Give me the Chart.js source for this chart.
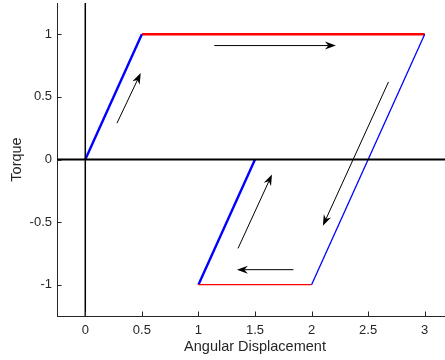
<!DOCTYPE html>
<html>
<head>
<meta charset="utf-8">
<script src="https://cdn.jsdelivr.net/npm/chart.js@4/dist/chart.umd.min.js"></script>
<style>
  html, body { margin: 0; padding: 0; background: #fff; overflow: hidden; }
  #wrap { width: 453px; height: 360px; }
</style>
</head>
<body>
<div id="wrap"><canvas id="hyst" width="453" height="360"></canvas></div>
<script>
// loop corners (angular displacement, torque)
const loopX = [0, 0.5, 3, 2, 1, 1.5];
const loopY = [0, 1, 1, -1, -1, 0];

// arrows: tail -> head
const arrowTailX = [0.28, 1.14, 2.68, 1.84, 1.35];
const arrowTailY = [0.29, 0.91, 0.62, -0.88, -0.71];
const arrowHeadX = [0.49, 2.215, 2.10, 1.34, 1.65];
const arrowHeadY = [0.69, 0.91, -0.53, -0.88, -0.12];

const xTicks = [0, 0.5, 1, 1.5, 2, 2.5, 3];
const yTicks = [-1, -0.5, 0, 0.5, 1];

const axisCol = '#262626';
const font = 'Liberation Sans, Arial, Helvetica, sans-serif';

function seg(i, j, color, width) {
    return {
        data: [{x: loopX[i], y: loopY[i]}, {x: loopX[j], y: loopY[j]}],
        borderColor: color, borderWidth: width, showLine: true,
        pointRadius: 0, fill: false
    };
}

const datasets = [
    { data: [{x: -0.25, y: 0}, {x: 3.25, y: 0}], borderColor: '#000', borderWidth: 2, showLine: true, pointRadius: 0 },
    { data: [{x: 0, y: -1.25}, {x: 0, y: 1.25}], borderColor: '#000', borderWidth: 1.5, showLine: true, pointRadius: 0 },
    seg(2, 3, '#0000ff', 1.3),
    seg(3, 4, '#ff0000', 1.3),
    seg(0, 1, '#0000ff', 2.4),
    seg(1, 2, '#ff0000', 2.6),
    seg(4, 5, '#0000ff', 2.4)
];

// inward tick marks + annotation arrows
const extras = {
    id: 'extras',
    afterDatasetsDraw(chart) {
        const c = chart.ctx, xs = chart.scales.x, ys = chart.scales.y;
        const a = chart.chartArea;
        c.save();
        c.strokeStyle = axisCol;
        c.lineWidth = 1;
        c.beginPath();
        xTicks.forEach(v => {
            const px = Math.round(xs.getPixelForValue(v)) + 0.5;
            c.moveTo(px, a.bottom); c.lineTo(px, a.bottom - 4.5);
        });
        yTicks.forEach(v => {
            const py = Math.round(ys.getPixelForValue(v)) + 0.5;
            c.moveTo(a.left, py); c.lineTo(a.left + 4.5, py);
        });
        c.stroke();

        c.strokeStyle = '#000';
        c.fillStyle = '#000';
        for (let i = 0; i < arrowTailX.length; i++) {
            const x0 = xs.getPixelForValue(arrowTailX[i]), y0 = ys.getPixelForValue(arrowTailY[i]);
            const x1 = xs.getPixelForValue(arrowHeadX[i]), y1 = ys.getPixelForValue(arrowHeadY[i]);
            const ang = Math.atan2(y1 - y0, x1 - x0);
            const L = 11, W = 4, N = 7.5;
            c.beginPath();
            c.moveTo(x0, y0);
            c.lineTo(x1 - N * Math.cos(ang), y1 - N * Math.sin(ang));
            c.stroke();
            c.save();
            c.translate(x1, y1);
            c.rotate(ang);
            c.beginPath();
            c.moveTo(0, 0);
            c.lineTo(-L, -W);
            c.lineTo(-N, 0);
            c.lineTo(-L, W);
            c.closePath();
            c.fill();
            c.restore();
        }
        c.restore();
    }
};

const tickLabel = v => String(v);

new Chart(document.getElementById('hyst'), {
    type: 'scatter',
    data: { datasets },
    plugins: [extras],
    options: {
        responsive: false,
        animation: false,
        layout: { padding: { top: 3, right: 0, left: 0, bottom: 0 } },
        plugins: { legend: { display: false }, tooltip: { enabled: false } },
        scales: {
            x: {
                type: 'linear', min: -0.25, max: 3.25,
                afterBuildTicks: s => { s.ticks = xTicks.map(v => ({value: v})); },
                afterFit: s => { s.height = 44; s.paddingLeft = 0; s.paddingRight = 0; },
                grid: { display: false, drawTicks: false },
                border: { display: true, color: axisCol, width: 1 },
                ticks: { color: axisCol, font: { family: font, size: 13 }, padding: 7, maxRotation: 0, callback: tickLabel },
                title: { display: true, text: 'Angular Displacement', color: axisCol,
                         font: { family: font, size: 14.5 }, padding: { top: 0, bottom: 4 } }
            },
            y: {
                type: 'linear', min: -1.25, max: 1.25,
                afterBuildTicks: s => { s.ticks = yTicks.map(v => ({value: v})); },
                afterFit: s => { s.width = 57; s.paddingTop = 0; s.paddingBottom = 0; },
                grid: { display: false, drawTicks: false },
                border: { display: true, color: axisCol, width: 1 },
                ticks: { color: axisCol, font: { family: font, size: 13 }, padding: 5, callback: tickLabel },
                title: { display: true, text: 'Torque', color: axisCol,
                         font: { family: font, size: 14.5 }, padding: { top: 8, bottom: 0 } }
            }
        }
    }
});
</script>
</body>
</html>
